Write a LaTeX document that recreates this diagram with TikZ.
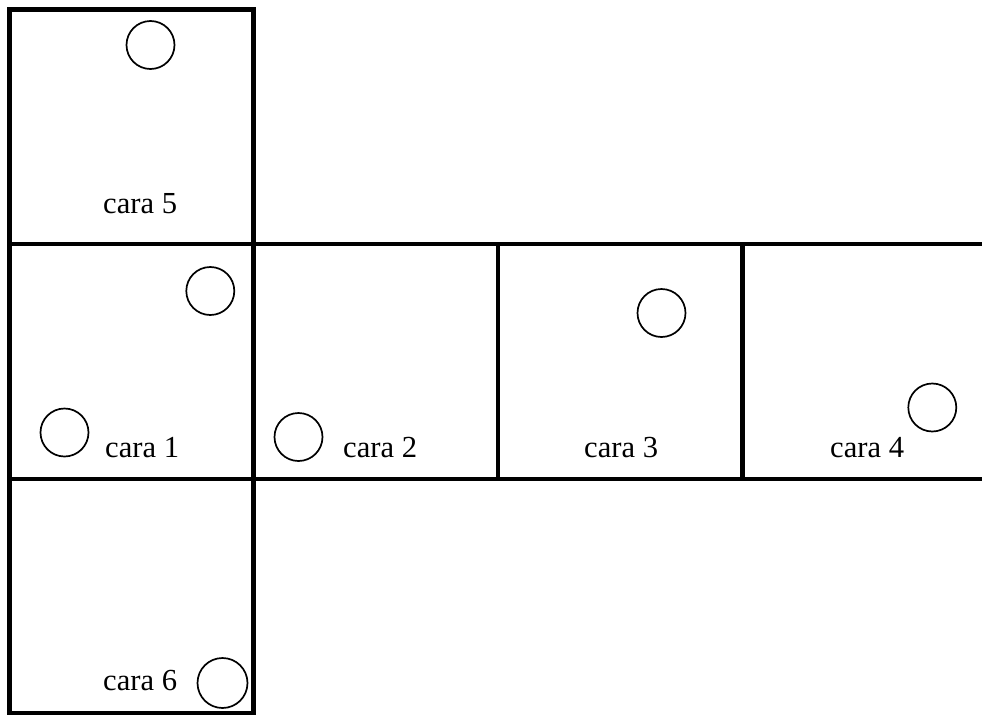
\documentclass[tikz,border=0pt]{standalone}
\usepackage{fontspec}
\setmainfont{Liberation Serif}
\begin{document}
\begin{tikzpicture}[x=1pt,y=-1pt,
  edge/.style={line width=4.3pt,line cap=rect,line join=miter},
  dot/.style={circle,draw,line width=1.7pt,minimum size=48pt,inner sep=0pt},
  lab/.style={anchor=base west,inner sep=0pt,font=\fontsize{30.6pt}{36pt}\selectfont}]
\useasboundingbox (0,0) rectangle (982,715);
% coordinates of the net
\coordinate (a0) at (9.5,9.5);
\coordinate (a1) at (253.5,9.5);
\coordinate (b0) at (9.5,244);
\coordinate (b1) at (253.5,244);
\coordinate (b2) at (498,244);
\coordinate (b3) at (742.5,244);
\coordinate (b4) at (982,244);
\coordinate (c0) at (9.5,479);
\coordinate (c1) at (253.5,479);
\coordinate (c2) at (498,479);
\coordinate (c3) at (742.5,479);
\coordinate (c4) at (982,479);
\coordinate (d0) at (9.5,713);
\coordinate (d1) at (253.5,713);
% faces
\draw[edge] (b0) -- (a0) -- (a1) -- (b1);
\draw[edge] (b0) -- (b4);
\draw[edge] (c0) -- (c4);
\draw[edge] (b0) -- (d0) -- (d1) -- (b1) -- (a1);
\draw[edge] (b2) -- (c2);
\draw[edge] (b3) -- (c3);
% circles
\node[dot] (p5) at (150.5,45) {};
\node[dot] (p1a) at (210.3,291) {};
\node[dot] (p1b) at (64.5,432.5) {};
\node[dot] (p2) at (298.5,437) {};
\node[dot] (p3) at (661.5,313) {};
\node[dot] (p4) at (932.3,407.5) {};
\node[dot,minimum size=50pt] (p6) at (222.5,683) {};
% labels
\node[lab] (l5) at (103,213) {cara 5};
\node[lab] (l1) at (105,457) {cara 1};
\node[lab] (l2) at (343,457) {cara 2};
\node[lab] (l3) at (584,457) {cara 3};
\node[lab] (l4) at (830,457) {cara 4};
\node[lab] (l6) at (103,690) {cara 6};
\end{tikzpicture}
\end{document}
